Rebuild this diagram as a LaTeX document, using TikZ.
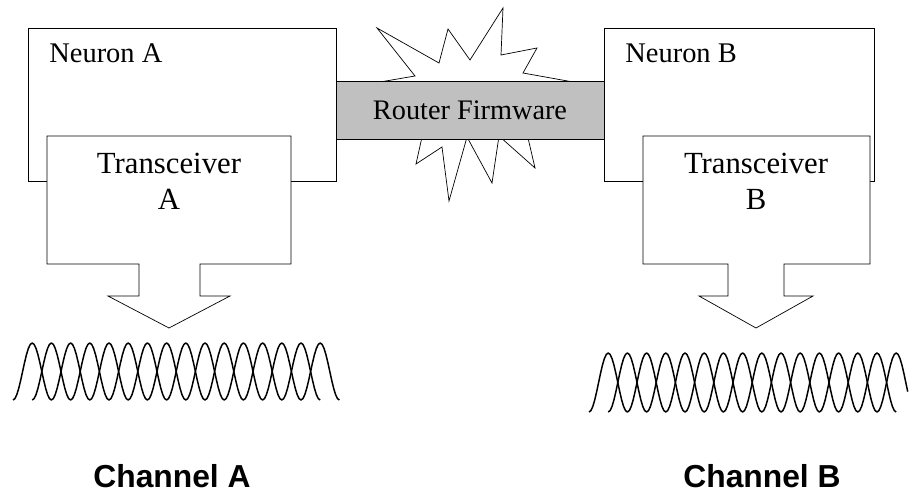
\documentclass[tikz,border=0pt]{standalone}
\usepackage{fontspec}
\setmainfont{Liberation Serif}
\newfontfamily\chanfont{Liberation Sans}
\definecolor{firmgray}{HTML}{C0C0C0}
\tikzset{line width=0.6pt,
        box/.style={draw=black,fill=white,line join=miter},
        firmware/.style={draw=black,fill=firmgray,inner sep=0pt,minimum width=5.36cm,minimum height=1.16cm,font=\fontsize{16.1}{19}\selectfont},
        neuronlbl/.style={inner sep=0pt,anchor=base west,font=\fontsize{16.2}{19}\selectfont},
        trxlbl/.style={inner sep=0pt,anchor=base,font=\fontsize{17.5}{21}\selectfont},
        chanlbl/.style={inner sep=0pt,anchor=base,font=\chanfont\bfseries\fontsize{18.1}{22}\selectfont},
        wave/.style={line width=0.85pt,line join=round}
        }

\begin{document}
\begin{tikzpicture}[x=0.02cm,y=-0.02cm]
    % 画布大小与原图一致
    \useasboundingbox (0,0) rectangle (909,493);
    % 爆炸形状,中间部分被 Router Firmware 盖住
    \draw[box] (380,82) -- (415,76) -- (377,28) -- (439,63) -- (448,29) -- (470,60) -- (503,8) -- (501,55)
        -- (537,48) -- (523,73) -- (562,80) -- (590,85) -- (525,125) -- (535,168) -- (499,136) -- (492,183)
        -- (467,137) -- (449,201) -- (442,147) -- (416,164) -- (424,128) -- cycle;
    % 灰色的 Router Firmware
    \node[firmware] (fw) at (470,110) {Router Firmware};

    % 两个 Neuron 方框
    \coordinate (neuA-nw) at (28,28);
    \coordinate (neuA-se) at (336,181);
    \coordinate (neuB-nw) at (604,28);
    \coordinate (neuB-se) at (874,181);
    \draw[box] (neuA-nw) rectangle (neuA-se);
    \draw[box] (neuB-nw) rectangle (neuB-se);
    \node[neuronlbl] (labNeuA) at (49,63) {Neuron A};
    \node[neuronlbl] (labNeuB) at (625,63) {Neuron B};

    % Transceiver A 连同向下的箭头,叠在 Neuron A 上
    \draw[box] (47,136) -- (291,136) -- (291,264) -- (200,264) -- (200,296) -- (230,296) -- (169,328)
        -- (108,296) -- (139,296) -- (139,264) -- (47,264) -- cycle;
    \node[trxlbl] (trxA) at (169,174) {Transceiver};
    \node[trxlbl] (trxA2) at (169,210) {A};
    % Transceiver B 同理
    \draw[box] (643,136) -- (870,136) -- (870,264) -- (784,264) -- (784,296) -- (813,296) -- (756,328)
        -- (699,296) -- (728,296) -- (728,264) -- (643,264) -- cycle;
    \node[trxlbl] (trxB) at (756,174) {Transceiver};
    \node[trxlbl] (trxB2) at (756,210) {B};

    % 信道上的波形,两条错开半个周期的正弦曲线 (9.375 = 360/38.4)
    \draw[wave] plot[domain=0:307.2,samples=161] ({13+\x},{371.5+28.5*cos(\x*9.375)});
    \draw[wave] plot[domain=0:307.2,samples=161] ({32.2+\x},{371.5+28.5*cos(\x*9.375)});
    \draw[wave] plot[domain=0:307.2,samples=161] ({589+\x},{382.5+29.5*cos(\x*9.375)});
    \draw[wave] plot[domain=0:299.52,samples=157] ({608.2+\x},{382.5+29.5*cos(\x*9.375)});

    % 信道名称
    \node[chanlbl] (chA) at (172,487) {Channel A};
    \node[chanlbl] (chB) at (762,487) {Channel B};
\end{tikzpicture}
\end{document}
